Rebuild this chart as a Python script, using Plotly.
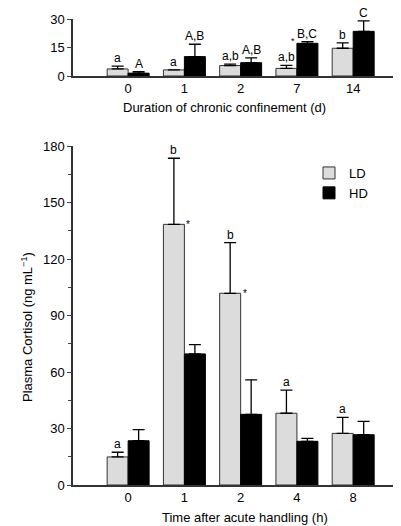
import plotly.graph_objects as go

# Top panel: duration of chronic confinement
top_cats = ["0", "1", "2", "7", "14"]
top_ld = [3.7, 3.2, 5.5, 4.0, 14.6]
top_ld_err = [1.5, 0.0, 0.8, 1.6, 2.8]
top_hd = [1.5, 10.2, 7.0, 17.2, 23.5]
top_hd_err = [0.8, 6.5, 2.5, 0.9, 5.5]
top_ld_lbl = ["a", "a", "a,b", "a,b", "b"]
top_hd_lbl = ["A", "A,B", "A,B", "B,C", "C"]

# Main panel: time after acute handling
main_cats = ["0", "1", "2", "4", "8"]
main_ld = [14.9, 138.4, 101.8, 38.1, 27.4]
main_ld_err = [2.5, 35.1, 26.9, 12.3, 8.5]
main_hd = [23.5, 69.6, 37.5, 23.2, 26.7]
main_hd_err = [5.9, 4.9, 18.3, 1.6, 7.1]
main_ld_lbl = ["a", "b", "b", "a", "a"]

LD_COLOR = "#dcdcdc"
HD_COLOR = "#000000"
FONT = "Liberation Sans, Arial, sans-serif"

fig = go.Figure()
xi = list(range(5))

def eb(arr):
    return dict(type="data", array=arr, arrayminus=[0] * len(arr), symmetric=False,
                color="black", thickness=1.3, width=6)

fig.add_trace(go.Bar(x=xi, y=top_ld, error_y=eb(top_ld_err), marker=dict(color=LD_COLOR, line=dict(color="#333", width=1)),
                     showlegend=False, xaxis="x2", yaxis="y2"))
fig.add_trace(go.Bar(x=xi, y=top_hd, error_y=eb(top_hd_err), marker=dict(color=HD_COLOR, line=dict(color="black", width=1)),
                     showlegend=False, xaxis="x2", yaxis="y2"))
fig.add_trace(go.Bar(x=xi, y=main_ld, error_y=eb(main_ld_err), name="LD", marker=dict(color=LD_COLOR, line=dict(color="#333", width=1))))
fig.add_trace(go.Bar(x=xi, y=main_hd, error_y=eb(main_hd_err), name="HD", marker=dict(color=HD_COLOR, line=dict(color="black", width=1))))

off = 0.1865
ann = []
for i in range(5):
    ann.append(dict(x=i - off, y=top_ld[i] + top_ld_err[i], xref="x2", yref="y2", text=top_ld_lbl[i],
                    showarrow=False, yanchor="bottom", yshift=-1, font=dict(size=12, color="black")))
    ann.append(dict(x=i + off, y=top_hd[i] + top_hd_err[i], xref="x2", yref="y2", text=top_hd_lbl[i],
                    showarrow=False, yanchor="bottom", yshift=-1, font=dict(size=12, color="black")))
    ann.append(dict(x=i - off, y=main_ld[i] + main_ld_err[i], xref="x", yref="y", text=main_ld_lbl[i],
                    showarrow=False, yanchor="bottom", yshift=-1, font=dict(size=12, color="black")))
# asterisks
ann.append(dict(x=1 + 0.07, y=main_ld[1], xref="x", yref="y", text="*", showarrow=False,
                yanchor="middle", font=dict(size=10, color="black")))
ann.append(dict(x=2 + 0.07, y=main_ld[2], xref="x", yref="y", text="*", showarrow=False,
                yanchor="middle", font=dict(size=10, color="black")))
ann.append(dict(x=3 - 0.07, y=top_hd[3] + 1.0, xref="x2", yref="y2", text="*", showarrow=False,
                yanchor="middle", font=dict(size=9, color="black")))

# page has an 8px body margin; compensate so the plot lands at the target pixel positions
PAGE_OFF = 8
W, H = 401 - PAGE_OFF, 526 - PAGE_OFF
L, R, T, B = 73 - PAGE_OFF, 0, 19 - PAGE_OFF, 41
pw, ph = W - L - R, H - T - B
def px(x):
    return (x - PAGE_OFF - L) / pw
def py(y):
    return 1 - (y - PAGE_OFF - T) / ph

ann.append(dict(x=px(224), y=py(108), xref="paper", yref="paper", text="Duration of chronic confinement (d)",
                showarrow=False, xanchor="center", yanchor="middle", font=dict(size=13, color="black")))
ann.append(dict(x=px(245), y=py(517), xref="paper", yref="paper", text="Time after acute handling (h)",
                showarrow=False, xanchor="center", yanchor="middle", font=dict(size=13, color="black")))
ann.append(dict(x=px(27), y=py(327), xref="paper", yref="paper", text="Plasma Cortisol (ng mL<sup>−1</sup>)",
                showarrow=False, xanchor="center", yanchor="middle", textangle=-90, font=dict(size=13, color="black")))

fig.update_layout(
    width=W, height=H,
    margin=dict(l=L, r=R, t=T, b=B),
    paper_bgcolor="white", plot_bgcolor="white",
    font=dict(family=FONT, size=13, color="black"),
    barmode="group", bargap=0.254, bargroupgap=0,
    annotations=ann,
    legend=dict(x=px(309), y=py(158), xanchor="left", yanchor="top", bgcolor="rgba(0,0,0,0)",
                font=dict(size=13), itemwidth=30, tracegroupgap=0),
    xaxis=dict(domain=[0, 1], range=[-0.98, 4.85], tickvals=xi, ticktext=main_cats, showline=True,
               linecolor="#333", linewidth=1.5, ticks="", showgrid=False, zeroline=False, automargin=False),
    yaxis=dict(domain=[0, py(146)], range=[0, 180], dtick=30, showline=True, linecolor="#333", linewidth=1.5,
               ticks="outside", ticklen=4, tickwidth=1, showgrid=False, zeroline=False, automargin=False,
               minor=dict(dtick=15, ticks="outside", ticklen=3, tickwidth=1)),
    xaxis2=dict(domain=[0, 1], range=[-0.98, 4.85], anchor="y2", tickvals=xi, ticktext=top_cats, showline=True,
                linecolor="#333", linewidth=1.5, ticks="", showgrid=False, zeroline=False, automargin=False),
    yaxis2=dict(domain=[py(76), 1], anchor="x2", range=[0, 30], dtick=15, showline=True, linecolor="#333",
                linewidth=1.5, ticks="outside", ticklen=4, tickwidth=1, showgrid=False, zeroline=False, automargin=False),
)

fig.write_html("out.html")
